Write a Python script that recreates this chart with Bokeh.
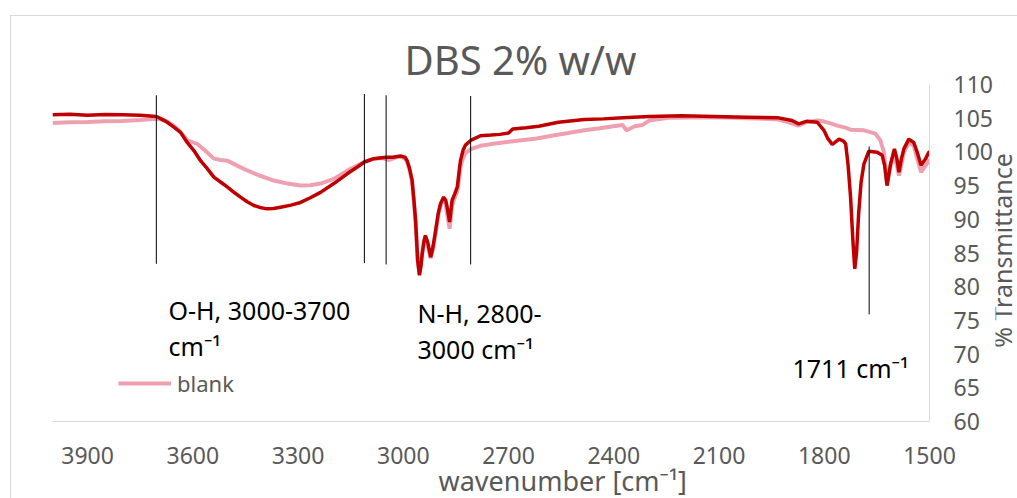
import math
from bokeh.plotting import figure
from bokeh.layouts import row
from bokeh.models import Range1d, FixedTicker, Label, Segment, ColumnDataSource, Title
from bokeh.embed import file_html
from bokeh.resources import INLINE

# ---------------- data ----------------
wn_sample = [4000, 3950, 3900, 3850, 3800, 3750, 3704, 3690, 3673, 3655, 3635, 3616, 3597, 3578,
             3560, 3540, 3520, 3502, 3480, 3464, 3445, 3426, 3405, 3388, 3370, 3350, 3320, 3293,
             3265, 3236, 3198, 3160, 3130, 3111, 3084, 3049, 3030, 3008, 2995, 2989, 2982, 2975,
             2970, 2965, 2959, 2954, 2950, 2946, 2941, 2937, 2930, 2922, 2915, 2908, 2900, 2894,
             2885, 2879, 2875, 2868, 2861, 2853, 2846, 2840, 2837, 2830, 2823, 2808, 2780, 2750,
             2725, 2700, 2688, 2650, 2614, 2558, 2484, 2430, 2373, 2299, 2207, 2114, 2022, 1930,
             1892, 1873, 1849, 1820, 1801, 1790, 1777, 1758, 1745, 1739, 1732, 1725, 1718, 1713,
             1708, 1702, 1695, 1687, 1673, 1649, 1635, 1628, 1621, 1611, 1600, 1593, 1587, 1580,
             1573, 1559, 1545, 1535, 1524, 1511, 1502, 1500]
t_sample = [105.5, 105.6, 105.45, 105.55, 105.5, 105.45, 105.25, 104.9, 104.4, 103.7, 102.9, 101.4, 100.2, 98.7,
            97.6, 96.25, 95.5, 94.8, 93.9, 93.3, 92.6, 92.05, 91.7, 91.55, 91.6, 91.8, 92.1, 92.5,
            93.2, 94.0, 95.3, 96.75, 97.8, 98.5, 99.0, 99.2, 99.2, 99.4, 99.2, 98.7, 97.5, 95.8,
            93.0, 89.8, 83.9, 81.7, 83.0, 84.9, 86.8, 87.6, 86.5, 84.4, 86.0, 88.3, 91.0, 92.3,
            93.3, 92.8, 91.8, 89.6, 92.8, 93.8, 94.8, 97.5, 98.7, 100.2, 101.0, 101.7, 102.4, 102.5,
            102.6, 102.8, 103.4, 103.6, 103.8, 104.4, 104.8, 104.9, 105.05, 105.25, 105.35, 105.25, 105.15, 105.05,
            104.65, 104.15, 104.56, 104.4, 103.2, 102.0, 101.1, 101.9, 101.6, 101.2, 98.0, 93.3, 86.5, 82.65,
            85.0, 90.8, 95.5, 98.2, 100.1, 99.95, 99.5, 98.0, 95.0, 98.2, 100.45, 99.0, 97.0, 99.0,
            100.45, 101.9, 101.4, 99.95, 98.0, 99.0, 99.95, 100.0]

wn_blank = [4000, 3950, 3900, 3850, 3800, 3750, 3704, 3680, 3654, 3640, 3626, 3616, 3600, 3588,
            3565, 3540, 3520, 3502, 3475, 3445, 3410, 3369, 3330, 3293, 3265, 3236, 3198, 3150,
            3111, 3084, 3060, 3040, 3020, 3008, 2995, 2989, 2982, 2975, 2970, 2965, 2959, 2954,
            2950, 2946, 2941, 2937, 2930, 2922, 2915, 2908, 2900, 2894, 2885, 2879, 2875, 2868,
            2861, 2853, 2846, 2840, 2837, 2830, 2823, 2808, 2780, 2743, 2700, 2669, 2620, 2577,
            2530, 2484, 2440, 2401, 2375, 2364, 2352, 2340, 2318, 2299, 2244, 2114, 1967, 1930,
            1902, 1874, 1850, 1819, 1800, 1780, 1763, 1740, 1725, 1687, 1654, 1640, 1630, 1621,
            1611, 1600, 1587, 1573, 1559, 1545, 1535, 1524, 1511, 1502, 1500]
t_blank = [104.3, 104.4, 104.45, 104.55, 104.6, 104.75, 104.9, 104.7, 103.9, 103.2, 102.4, 101.7, 101.4, 101.2,
           100.2, 99.0, 98.8, 98.7, 98.0, 97.25, 96.5, 95.75, 95.3, 95.0, 95.05, 95.3, 96.0, 97.5,
           98.5, 99.0, 99.1, 98.8, 99.2, 99.3, 99.0, 98.5, 97.3, 95.6, 92.8, 89.6, 83.8, 82.0,
           83.2, 85.0, 86.6, 87.2, 86.0, 84.2, 85.7, 87.9, 90.7, 92.0, 93.0, 92.3, 90.8, 88.6,
           92.0, 93.3, 94.2, 96.5, 97.8, 99.0, 99.8, 100.4, 100.9, 101.2, 101.5, 101.7, 102.0, 102.4,
           102.8, 103.2, 103.5, 103.8, 104.0, 103.2, 103.5, 103.8, 104.0, 104.65, 105.05, 105.15, 104.9, 104.8,
           104.4, 103.9, 104.4, 104.65, 104.5, 104.2, 103.9, 103.6, 103.3, 103.2, 102.7, 101.7, 99.95, 95.3,
           98.0, 99.8, 96.5, 99.9, 101.4, 100.9, 99.0, 97.0, 98.0, 98.7, 98.8]

x_ticks = [3900, 3600, 3300, 3000, 2700, 2400, 2100, 1800, 1500]
y_ticks = [60, 65, 70, 75, 80, 85, 90, 95, 100, 105, 110]

# marker lines for band regions
mark_wn = [3704, 3111, 3049, 2808, 1672]
mark_top = [108.4, 108.6, 108.4, 108.3, 100.8]
mark_bottom = [83.4, 83.5, 83.3, 83.3, 75.9]

title_text = "DBS 2% w/w"
x_label = "wavenumber [cm\u207b\u00b9]"
y_label = "% Transmittance"

# ---------------- layout (reference page pixels) ----------------
X0, X1, Y0, Y1 = 4000, 1500, 60, 110
FL, FR, FT, FB = 52, 929, 84, 421      # frame edges on the page
OX, OY = 11, 16                        # chart-area offset (light border)
PR = 995                               # right edge of main figure on the page
W, H = PR - OX, 498 - OY
QW = 1017 - PR                         # strip holding the y-axis title

def dx(px):
    return X0 + (px - FL) * (X1 - X0) / (FR - FL)
def dy(py):
    return Y1 - (py - FT) * (Y1 - Y0) / (FB - FT)

FONT = "Noto Sans"
GRAY = "#595959"

p = figure(width=W, height=H, x_range=Range1d(X0, X1), y_range=Range1d(Y0, Y1),
           y_axis_location="right", output_backend="svg", toolbar_location=None,
           min_border_left=FL - OX, min_border_right=PR - FR, min_border_top=FT - OY,
           min_border_bottom=498 - FB, background_fill_color="white",
           border_fill_color="white")
p.outline_line_color = None
p.grid.visible = False

# series
p.line(wn_blank, t_blank, line_color="#EFA0B0", line_width=4, legend_label="blank")
p.line(wn_sample, t_sample, line_color="#C00000", line_width=3.5)

# band marker lines
src = ColumnDataSource(dict(x=mark_wn, y0=mark_top, y1=mark_bottom))
p.add_glyph(src, Segment(x0="x", y0="y0", x1="x", y1="y1", line_color="black", line_width=1))

# axes
for ax in (p.xaxis[0], p.yaxis[0]):
    ax.major_tick_line_color = None
    ax.minor_tick_line_color = None
    ax.major_tick_out = 0
    ax.major_tick_in = 0
    ax.major_label_text_font = FONT
    ax.major_label_text_font_size = "23px"
    ax.major_label_text_color = GRAY
    ax.axis_line_color = "#d9d9d9"
    ax.axis_line_width = 1
p.xaxis[0].ticker = FixedTicker(ticks=x_ticks)
p.yaxis[0].ticker = FixedTicker(ticks=y_ticks)
p.xaxis[0].major_label_standoff = 25
p.yaxis[0].major_label_standoff = 24

# title
p.title.text = title_text
p.title.align = "left"
p.title.offset = 352
p.title.text_font = FONT
p.title.text_font_size = "40px"
p.title.text_font_style = "normal"
p.title.text_color = GRAY
p.title.standoff = -4

# x axis title (offset to the right like the reference)
p.add_layout(Title(text=x_label, align="left", offset=386, text_font=FONT,
                   text_font_size="27px", text_font_style="normal", text_color=GRAY,
                   standoff=-10, vertical_align="top"), "below")

# legend
lg = p.legend[0]
lg.location = (66, 23)
lg.label_text_font = FONT
lg.label_text_font_size = "22px"
lg.label_text_color = GRAY
lg.glyph_width = 53
lg.glyph_height = 22
lg.label_height = 22
lg.label_standoff = 6
lg.padding = 0
lg.margin = 0
lg.spacing = 0
lg.border_line_color = None
lg.background_fill_alpha = 0

def add_label(text, px, py, size, color, align="left"):
    p.add_layout(Label(x=dx(px), y=dy(py), text=text, text_font=FONT,
                       text_font_size=size, text_color=color, text_align=align,
                       text_baseline="alphabetic"))

add_label("O-H, 3000-3700", 168, 309, "25px", "black")
add_label("cm\u207b\u00b9", 168, 345, "25px", "black")
add_label("N-H, 2800-", 417, 312.5, "25px", "black")
add_label("3000 cm\u207b\u00b9", 417, 348, "25px", "black")
add_label("1711 cm\u207b\u00b9", 792, 367, "25px", "black")

# narrow strip on the right for the rotated y-axis title (pixel units)
q = figure(width=QW, height=H, x_range=Range1d(0, QW), y_range=Range1d(0, H),
           x_axis_location=None, y_axis_location=None, output_backend="svg",
           toolbar_location=None, min_border=0, min_border_left=0, min_border_right=0,
           min_border_top=0, min_border_bottom=0, background_fill_color="white",
           border_fill_color="white")
try:
    q.title = None
except Exception:
    q.title.visible = False
q.outline_line_color = None
q.grid.visible = False
q.add_layout(Label(x=6, y=498 - 253.4, text=y_label, text_font=FONT,
                   text_font_size="25px", text_color=GRAY, text_align="center",
                   text_baseline="alphabetic", angle=math.pi / 2))

layout = row(p, q)
layout.styles = {"margin-left": f"{OX}px", "margin-top": f"{OY}px",
                 "outline": "1px solid #d9d9d9"}

open("out.html", "w").write(file_html(layout, INLINE))
